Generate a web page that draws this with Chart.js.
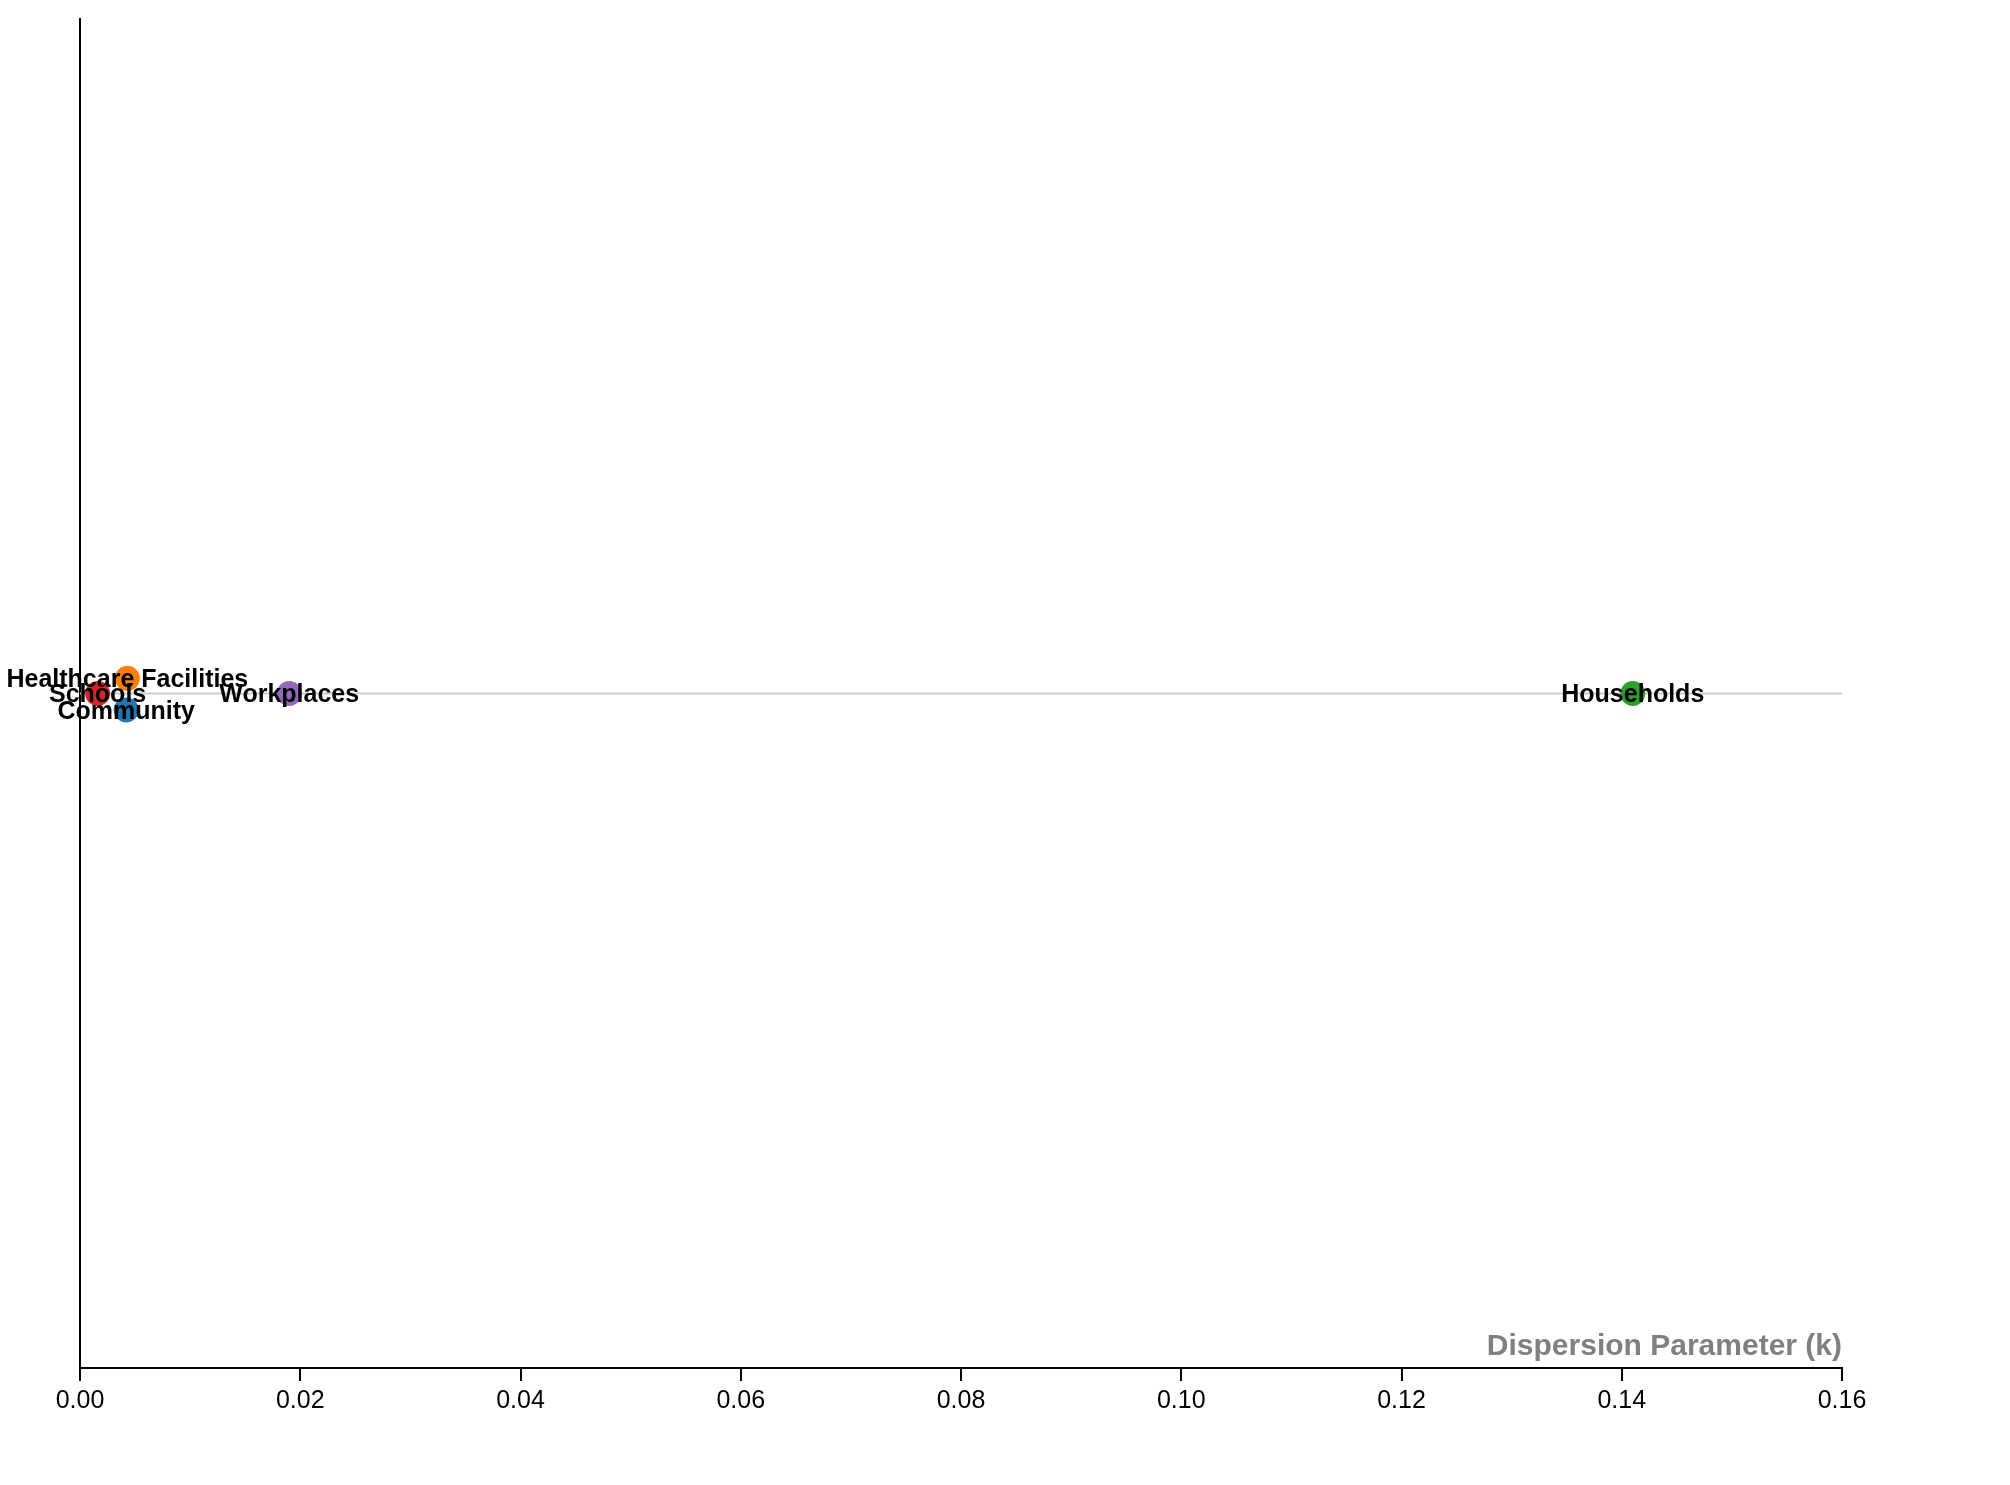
<!DOCTYPE html>
<html lang="en">
<head>
  <meta charset="UTF-8">
  <title>Dispersion Parameter (k)</title>
  <script src="https://cdn.jsdelivr.net/npm/chart.js"></script>
  <style>
    html, body { margin: 0; padding: 0; background: #fff; }
    #wrap { width: 2010px; height: 1485px; }
  </style>
</head>
<body>
  <div id="wrap"><canvas id="chart" width="2010" height="1485"></canvas></div>

  <script>
    // settings and their dispersion parameter k
    const settings = ['Community', 'Healthcare Facilities', 'Households', 'Schools', 'Workplaces'];
    const kValues = [0.0042, 0.0043, 0.141, 0.0016, 0.019];
    // vertical swarm offset so overlapping dots don't sit on each other
    const swarmOffset = [-0.0245, 0.0225, 0, 0, 0];
    const colors = ['#1f77b4', '#ff7f0e', '#2ca02c', '#d62728', '#9467bd'];
    const xTicks = [0, 0.02, 0.04, 0.06, 0.08, 0.10, 0.12, 0.14, 0.16];

    const FONT = '"Liberation Sans", Arial, sans-serif';

    const datasets = settings.map((name, i) => ({
      label: name,
      data: [{ x: kValues[i], y: swarmOffset[i] }],
      backgroundColor: colors[i],
      borderWidth: 0,
      pointRadius: 12.5,
      order: 1
    }));
    // grey baseline
    datasets.push({
      type: 'line',
      label: 'baseline',
      data: [{ x: xTicks[0], y: 0 }, { x: xTicks[xTicks.length - 1], y: 0 }],
      borderColor: '#cccccc',
      borderWidth: 2,
      pointRadius: 0,
      order: 10
    });

    const labelPlugin = {
      id: 'labels',
      afterDatasetsDraw(chart) {
        const ctx = chart.ctx;
        ctx.save();
        ctx.font = 'bold 25px ' + FONT;
        ctx.fillStyle = '#000';
        ctx.textAlign = 'center';
        ctx.textBaseline = 'middle';
        settings.forEach((name, i) => {
          const pt = chart.getDatasetMeta(i).data[0];
          ctx.fillText(name, pt.x, pt.y + 2);
        });
        // axis title, sitting just above the axis at the right
        ctx.font = 'bold 30px ' + FONT;
        ctx.fillStyle = '#808080';
        ctx.textAlign = 'right';
        ctx.textBaseline = 'alphabetic';
        ctx.fillText('Dispersion Parameter (k)', chart.chartArea.right, chart.chartArea.bottom - 13);
        ctx.restore();
      }
    };

    new Chart(document.getElementById('chart'), {
      type: 'scatter',
      data: { datasets },
      options: {
        responsive: false,
        animation: false,
        events: [],
        layout: { padding: { left: 80, right: 168, top: 19, bottom: 0 } },
        plugins: { legend: { display: false }, tooltip: { enabled: false } },
        scales: {
          x: {
            type: 'linear',
            min: 0,
            max: 0.16,
            afterBuildTicks: s => { s.ticks = xTicks.map(v => ({ value: v })); },
            afterFit: s => { s.height = 117; },
            grid: { drawOnChartArea: false, drawTicks: true, tickLength: 13, color: '#000', lineWidth: 2 },
            border: { display: true, color: '#000', width: 2 },
            ticks: {
              color: '#000',
              font: { family: FONT, size: 25 },
              padding: 5,
              maxRotation: 0,
              callback: v => v.toFixed(2)
            }
          },
          y: {
            type: 'linear',
            min: -1,
            max: 1,
            afterFit: s => { s.width = 0; },
            grid: { display: false },
            border: { display: true, color: '#000', width: 2 },
            ticks: { display: false }
          }
        }
      },
      plugins: [labelPlugin]
    });
  </script>
</body>
</html>
